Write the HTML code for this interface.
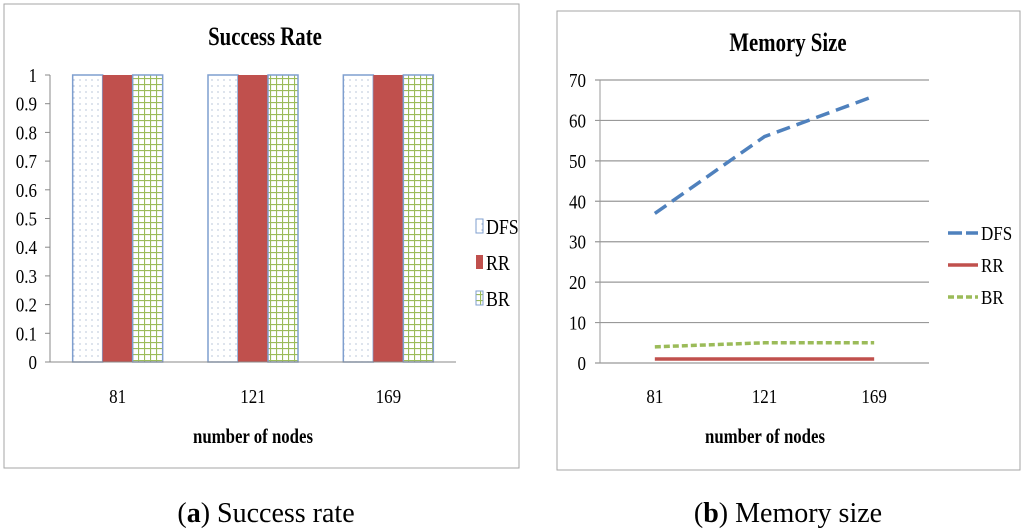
<!DOCTYPE html>
<html><head><meta charset="utf-8"><style>
html,body{margin:0;padding:0;background:#fff;}
svg{display:block;font-family:"Liberation Serif",serif;}
</style></head><body>
<svg id="s" width="1024" height="530" viewBox="0 0 1024 530" xmlns="http://www.w3.org/2000/svg">
<defs>
<pattern id="dots" width="6" height="6" patternUnits="userSpaceOnUse"><rect width="6" height="6" fill="#fff"/><circle cx="2" cy="2" r="0.6" fill="#8aa0c0"/></pattern>
<pattern id="grid" width="6" height="6" patternUnits="userSpaceOnUse"><rect width="6" height="6" fill="#fff"/><path d="M0 0.5H6M0.5 0V6" stroke="#9bbb59" stroke-width="1.2"/></pattern>
</defs>
<rect x="4" y="4" width="515" height="464" fill="#fff" stroke="#a6a6a6"/>
<rect x="557" y="11" width="463" height="459" fill="#fff" stroke="#a6a6a6"/>
<g id="L"></g><g id="R"></g>
<text x="265" y="45" text-anchor="middle" font-weight="bold" font-size="26" transform="translate(265 0) scale(0.8 1) translate(-265 0)">Success Rate</text>
<text x="253" y="443" text-anchor="middle" font-weight="bold" font-size="21" transform="translate(253 0) scale(0.8 1) translate(-253 0)">number of nodes</text>
<text x="788" y="51" text-anchor="middle" font-weight="bold" font-size="26" transform="translate(788 0) scale(0.8 1) translate(-788 0)">Memory Size</text>
<text x="765" y="443" text-anchor="middle" font-weight="bold" font-size="21" transform="translate(765 0) scale(0.8 1) translate(-765 0)">number of nodes</text>
<text x="266" y="522" text-anchor="middle" font-size="28">(<tspan font-weight="bold">a</tspan>) Success rate</text>
<text x="788" y="522" text-anchor="middle" font-size="28">(<tspan font-weight="bold">b</tspan>) Memory size</text>
</svg>
<script>
const categories = ["81","121","169"];
const seriesNames = ["DFS","RR","BR"];
const successDFS = [1,1,1];
const successRR = [1,1,1];
const successBR = [1,1,1];
const successTicks = ["0","0.1","0.2","0.3","0.4","0.5","0.6","0.7","0.8","0.9","1"];
const memDFS = [37,56,66];
const memRR = [1,1,1];
const memBR = [4,5,5];
const memTicks = ["0","10","20","30","40","50","60","70"];

const NS="http://www.w3.org/2000/svg";
function mk(p,tag,at,txt){const e=document.createElementNS(NS,tag);for(const k in at)e.setAttribute(k,at[k]);if(txt!==undefined)e.textContent=txt;p.appendChild(e);return e;}
function sq(x){return 'translate('+x+' 0) scale(0.85 1) translate('+(-x)+' 0)';}

// Left bar chart
const L=document.getElementById('L');
const lx0=50,lx1=456,ly0=362,ly1=75;
const ly=v=>ly0-(v-0)/(1-0)*(ly0-ly1);
const band=(lx1-lx0)/categories.length;
const lcx=i=>lx0+band*(i+0.5);
successTicks.forEach(t=>{
  const v=parseFloat(t);
  const tk=mk(L,'line',{x1:45,x2:lx0,y1:ly(v),y2:ly(v),stroke:'#888'});
  
  
  const e=mk(L,'text',{x:37,y:ly(v)+7,'text-anchor':'end','font-size':20,transform:sq(37)},t);
  
  
});
const lax=mk(L,'line',{x1:lx0,x2:lx0,y1:ly1,y2:ly0,stroke:'#888'});


const bw=30;
const fills=['url(#dots)','#c0504d','url(#grid)'];
[successDFS,successRR,successBR].forEach((arr,si)=>{
  arr.forEach((v,i)=>{
    const x=lcx(i)-1.5*bw+si*bw;
    const r=mk(L,'rect',{x:x,y:ly(v),width:bw,height:ly0-ly(v),fill:fills[si],stroke:si==1?'none':'#7f9fcf','stroke-width':1.5});
    
    
  });
});
const lxa=mk(L,'line',{x1:45,x2:lx1,y1:ly0,y2:ly0,stroke:'#888'});


categories.forEach((c,i)=>{
  const e=mk(L,'text',{x:lcx(i),y:403,'text-anchor':'middle','font-size':20,transform:sq(lcx(i))},c);
  
  
});
seriesNames.forEach((n,si)=>{
  const yy=226+si*36;
  const sw=mk(L,'rect',{x:476,y:yy-7,width:7,height:14,fill:fills[si],stroke:si==1?'none':'#7f9fcf'});
  
  
  const e=mk(L,'text',{x:486,y:yy+8,'font-size':21,transform:sq(486)},n);
  
  
});

// Right line chart
const R=document.getElementById('R');
const rx0=600,rx1=929,ry0=363,ry1=80;
const ry=v=>ry0-v/70*(ry0-ry1);
const rb=(rx1-rx0)/categories.length;
const rcx=i=>rx0+rb*(i+0.5);
memTicks.forEach(t=>{
  const v=parseFloat(t);
  const g=mk(R,'line',{x1:595,x2:rx1,y1:ry(v),y2:ry(v),stroke:'#999','stroke-width':1.2});
  
  
  const e=mk(R,'text',{x:586,y:ry(v)+7,'text-anchor':'end','font-size':20,transform:sq(586)},t);
  
  
});
const rax=mk(R,'line',{x1:rx0,x2:rx0,y1:ry1,y2:ry0,stroke:'#999'});


categories.forEach((c,i)=>{
  const e=mk(R,'text',{x:rcx(i),y:403,'text-anchor':'middle','font-size':20,transform:sq(rcx(i))},c);
  
  
});
const lstyles=[{c:'#4f81bd',d:'14 7'},{c:'#c0504d',d:''},{c:'#9bbb59',d:'6 3'}];
[memDFS,memRR,memBR].forEach((arr,si)=>{
  const pts=arr.map((v,i)=>rcx(i)+','+ry(v)).join(' ');
  const at={points:pts,fill:'none',stroke:lstyles[si].c,'stroke-width':3.5};
  if(lstyles[si].d)at['stroke-dasharray']=lstyles[si].d;
  const p=mk(R,'polyline',at);
  
  
});
seriesNames.forEach((n,si)=>{
  const yy=233+si*32;
  const at={x1:948,x2:978,y1:yy,y2:yy,stroke:lstyles[si].c,'stroke-width':3.5};
  if(lstyles[si].d)at['stroke-dasharray']=si==0?'14 4':'6 3';
  const l=mk(R,'line',at);
  
  
  const e=mk(R,'text',{x:981,y:yy+7,'font-size':20,transform:sq(981)},n);
  
  
});
</script>
</body></html>
